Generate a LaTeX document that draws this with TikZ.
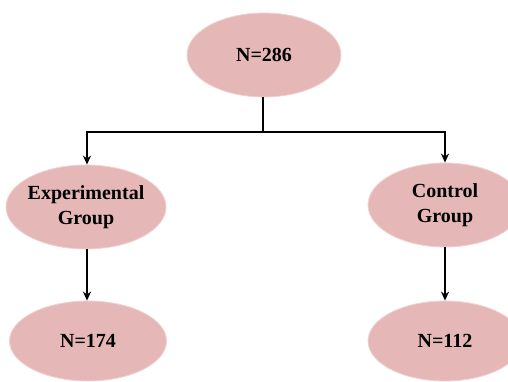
\documentclass[tikz,border=0pt]{standalone}
\usepackage{fontspec}
\setmainfont{Liberation Serif}
\usetikzlibrary{shapes.geometric,arrows.meta}
\definecolor{pinkfill}{RGB}{229,184,183}
\definecolor{pinkedge}{RGB}{240,210,209}
\tikzset{
  oval/.style={ellipse, fill=pinkfill, draw=pinkedge, line width=0.8pt,
    minimum width=#1, minimum height=84pt, inner xsep=-20pt, inner ysep=-10pt,
    font=\bfseries\fontsize{20}{25}\selectfont, align=center},
  conn/.style={line width=2.2pt, black},
  arr/.style={conn, -{Stealth[length=9pt,width=8pt]}}
}
\begin{document}
\begin{tikzpicture}[x=1pt,y=1pt]
\useasboundingbox (0,0) rectangle (508,382);
\clip (0,0) rectangle (508,382);
\node[oval=154pt] (top) at (264,327) {N=286};
\node[oval=160pt] (exp) at (86,175) {Experimental\\Group};
\node[oval=154pt] (ctl) at (445,177) {Control\\Group};
\node[oval=157pt, minimum height=80pt] (b1) at (88,41) {N=174};
\node[oval=154pt, minimum height=80pt] (b2) at (445,41) {N=112};
\coordinate (j) at (263,250);
\coordinate (jl) at (87,250);
\coordinate (jr) at (445,250);
\draw[conn] (top.south -| j) -- (j);
\draw[arr] (j) -- (jl) -- (jl |- exp.north);
\draw[arr] (j) -- (jr) -- (ctl.north);
\draw[arr] (exp.south -| jl) -- (jl |- b1.north);
\draw[arr] (ctl.south) -- (b2.north);
\end{tikzpicture}
\end{document}
